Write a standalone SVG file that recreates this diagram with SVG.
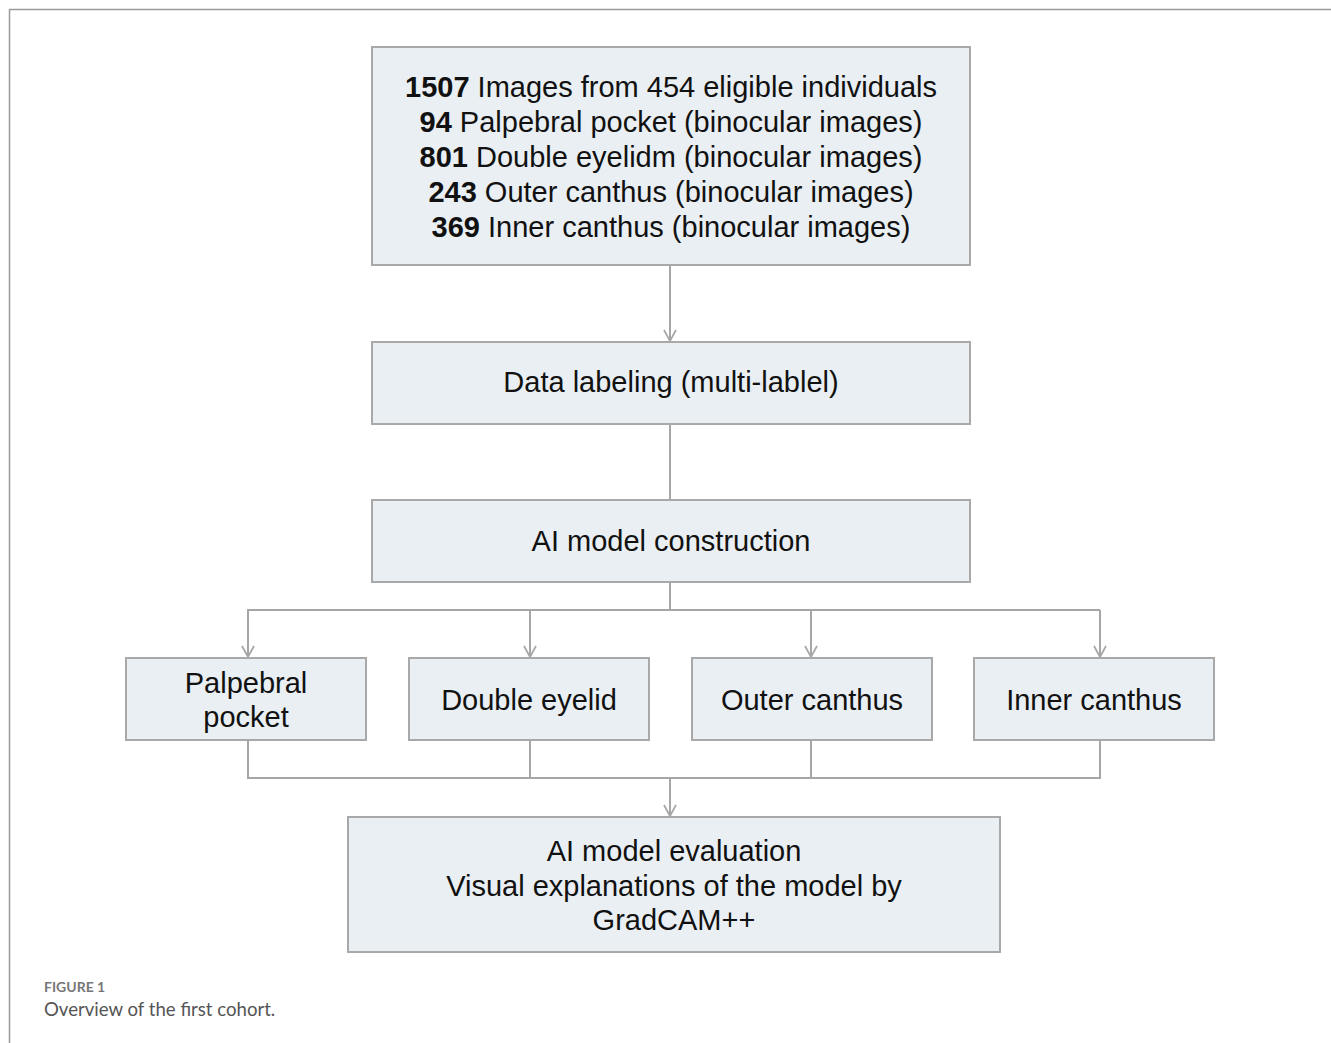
<svg xmlns="http://www.w3.org/2000/svg" width="1331" height="1043" viewBox="0 0 1331 1043">
<style>
.box{fill:#e9eff3;stroke:#a9a9a9;stroke-width:2}
.t{font-family:"Liberation Sans",Arial,sans-serif;font-size:29px;fill:#111;text-anchor:middle}
.b{font-weight:bold}
.c{fill:none;stroke:#a6a6a6;stroke-width:2}
</style>
<defs>
<marker id="ah" viewBox="0 0 14 14" refX="13" refY="7" markerWidth="14" markerHeight="14" markerUnits="userSpaceOnUse" orient="auto">
<polyline points="2,1 13,7 2,13" fill="none" stroke="#a6a6a6" stroke-width="1.7"/>
</marker>
</defs>
<rect width="1331" height="1043" fill="#fff"/>
<polyline points="9.5,1043 9.5,9.5 1331,9.5" fill="none" stroke="#9a9a9a" stroke-width="1.5"/>
<g id="connectors">
<line class="c" x1="670" y1="265" x2="670" y2="341" marker-end="url(#ah)"/>
<line class="c" x1="670" y1="424" x2="670" y2="500"/>
<line class="c" x1="670" y1="582" x2="670" y2="610"/>
<line class="c" x1="247" y1="610" x2="1100" y2="610"/>
<line class="c" x1="248" y1="610" x2="248" y2="657" marker-end="url(#ah)"/>
<line class="c" x1="530" y1="610" x2="530" y2="657" marker-end="url(#ah)"/>
<line class="c" x1="811" y1="610" x2="811" y2="657" marker-end="url(#ah)"/>
<line class="c" x1="1100" y1="610" x2="1100" y2="657" marker-end="url(#ah)"/>
<polyline class="c" points="248,740 248,778 1100,778 1100,740"/>
<line class="c" x1="530" y1="740" x2="530" y2="778"/>
<line class="c" x1="811" y1="740" x2="811" y2="778"/>
<line class="c" x1="670" y1="778" x2="670" y2="816" marker-end="url(#ah)"/>
</g>
<g id="n1">
<rect class="box" x="372" y="47" width="598" height="218"/>
<text class="t" x="671" y="97"><tspan class="b">1507</tspan> Images from 454 eligible individuals</text>
<text class="t" x="671" y="132"><tspan class="b">94</tspan> Palpebral pocket (binocular images)</text>
<text class="t" x="671" y="167"><tspan class="b">801</tspan> Double eyelidm (binocular images)</text>
<text class="t" x="671" y="202"><tspan class="b">243</tspan> Outer canthus (binocular images)</text>
<text class="t" x="671" y="237"><tspan class="b">369</tspan> Inner canthus (binocular images)</text>
</g>
<g id="n2">
<rect class="box" x="372" y="342" width="598" height="82"/>
<text class="t" x="671" y="392">Data labeling (multi-lablel)</text>
</g>
<g id="n3">
<rect class="box" x="372" y="500" width="598" height="82"/>
<text class="t" x="671" y="551">AI model construction</text>
</g>
<g id="n4">
<rect class="box" x="126" y="658" width="240" height="82"/>
<text class="t" x="246" y="693">Palpebral</text>
<text class="t" x="246" y="727">pocket</text>
</g>
<g id="n5">
<rect class="box" x="409" y="658" width="240" height="82"/>
<text class="t" x="529" y="710">Double eyelid</text>
</g>
<g id="n6">
<rect class="box" x="692" y="658" width="240" height="82"/>
<text class="t" x="812" y="710">Outer canthus</text>
</g>
<g id="n7">
<rect class="box" x="974" y="658" width="240" height="82"/>
<text class="t" x="1094" y="710">Inner canthus</text>
</g>
<g id="n8">
<rect class="box" x="348" y="817" width="652" height="135"/>
<text class="t" x="674" y="861">AI model evaluation</text>
<text class="t" x="674" y="896">Visual explanations of the model by</text>
<text class="t" x="674" y="930">GradCAM++</text>
</g>
<g id="caption">
<text x="44" y="992" font-family="Lato,'Liberation Sans',sans-serif" font-size="14" font-weight="bold" fill="#777">FIGURE 1</text>
<text x="44" y="1016" font-family="Lato,'Liberation Sans',sans-serif" font-size="18.6" fill="#555">Overview of the first cohort.</text>
</g>
</svg>
